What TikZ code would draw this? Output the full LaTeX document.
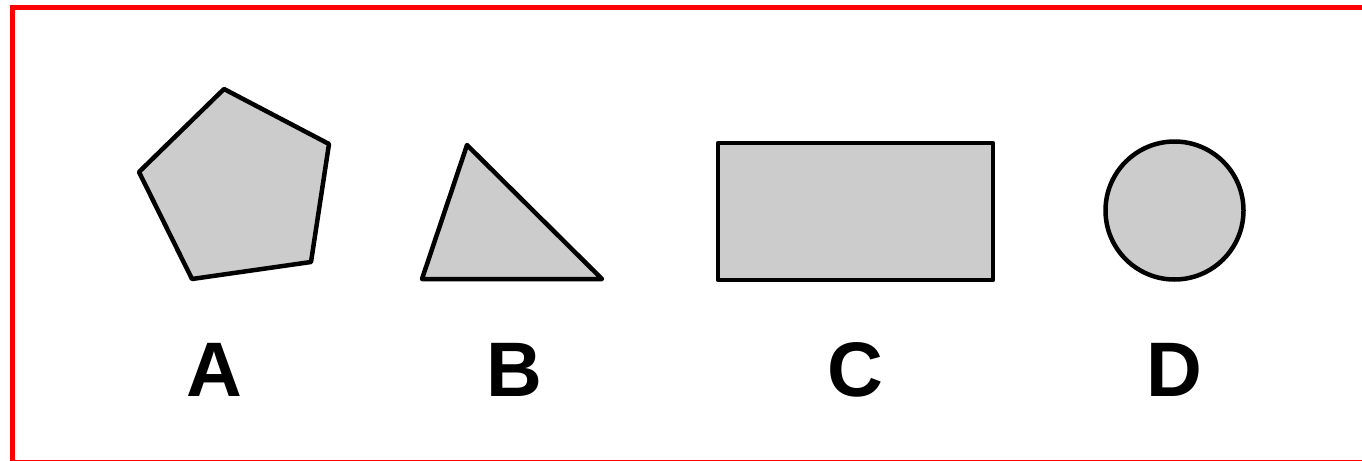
\documentclass[tikz,border=0pt]{standalone}
\usepackage{fontspec}
\setmainfont{Liberation Sans}
\definecolor{FrameRed}{HTML}{FF0000}
\definecolor{ShapeGray}{HTML}{CCCCCC}
\usetikzlibrary{positioning}

\begin{document}
\begin{tikzpicture}[
        x=0.02cm, y=-0.02cm,
        shp/.style={draw=black, fill=ShapeGray, line width=0.09cm, line join=round},
        lbl/.style={font=\fontsize{44}{50}\selectfont\bfseries, inner sep=0pt, anchor=center},
        frame/.style={draw=FrameRed, line width=0.1cm}
    ]
        \useasboundingbox (0,0) rectangle (1362,460);
        \draw[frame] (12.5,7.5) rectangle (1380,462.8);

        \draw[shp] (224,89) -- (329,144) -- (311,262) -- (192,279) -- (139,172) -- cycle;
        \draw[shp] (467,145) -- (602,279) -- (422,279) -- cycle;
        \draw[shp] (718,143) rectangle (993,280);
        \draw[shp] (1174.5,210.5) circle (69);

        \node[lbl] (lblA) at (214,370) {A};
        \node[lbl] (lblB) at (514,370) {B};
        \node[lbl] (lblC) at (855,370) {C};
        \node[lbl] (lblD) at (1174,370) {D};
    \end{tikzpicture}
\end{document}
